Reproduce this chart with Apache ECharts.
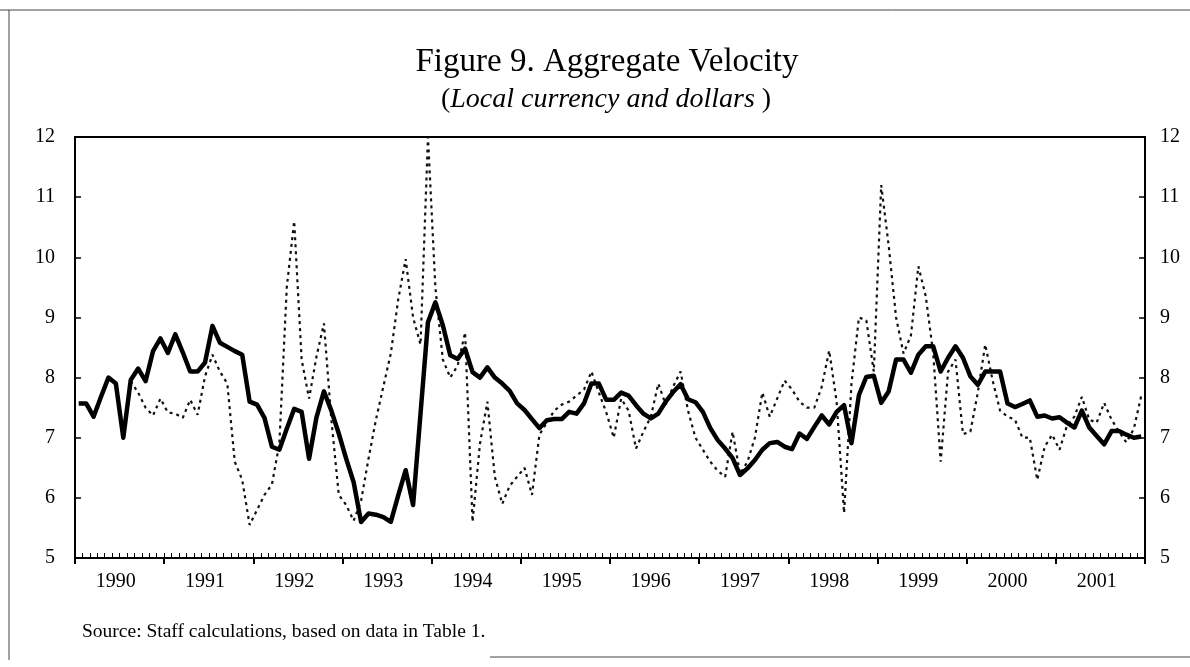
<!DOCTYPE html>
<html>
<head>
<meta charset="utf-8">
<title>Figure 9. Aggregate Velocity</title>
<script src="https://cdn.jsdelivr.net/npm/echarts@6/dist/echarts.min.js"></script>
<style>
html, body { margin: 0; padding: 0; background: #fff; }
#main { width: 1190px; height: 667px; }
</style>
</head>
<body>
<div id="main"></div>
<script>
var years = [1990, 1991, 1992, 1993, 1994, 1995, 1996, 1997, 1998, 1999, 2000, 2001];
var month_names = ['01', '02', '03', '04', '05', '06', '07', '08', '09', '10', '11', '12'];

// monthly velocity (solid line, left scale)
var local_currency = [
    7.57, 7.57, 7.35, 7.68, 8.00, 7.90, 7.00, 7.96, 8.15, 7.94, 8.44, 8.65,
    8.41, 8.72, 8.42, 8.10, 8.10, 8.25, 8.86, 8.58, 8.51, 8.44, 8.38, 7.60,
    7.55, 7.33, 6.85, 6.80, 7.15, 7.48, 7.43, 6.65, 7.34, 7.77, 7.45, 7.07,
    6.65, 6.26, 5.60, 5.74, 5.72, 5.68, 5.60, 6.04, 6.46, 5.88, 7.40, 8.92,
    9.25, 8.87, 8.37, 8.31, 8.48, 8.09, 8.00, 8.17, 8.00, 7.90, 7.78, 7.57,
    7.46, 7.31, 7.16, 7.29, 7.31, 7.31, 7.43, 7.40, 7.57, 7.90, 7.90, 7.63,
    7.63, 7.75, 7.70, 7.54, 7.40, 7.32, 7.40, 7.60, 7.76, 7.89, 7.64, 7.59,
    7.43, 7.16, 6.96, 6.82, 6.66, 6.38, 6.49, 6.63, 6.80, 6.91, 6.93, 6.85,
    6.81, 7.07, 6.98, 7.18, 7.37, 7.22, 7.43, 7.54, 6.91, 7.71, 8.01, 8.03,
    7.58, 7.77, 8.30, 8.30, 8.08, 8.38, 8.52, 8.52, 8.10, 8.33, 8.52, 8.33,
    8.02, 7.88, 8.10, 8.10, 8.10, 7.57, 7.51, 7.56, 7.62, 7.35, 7.37, 7.32,
    7.34, 7.25, 7.17, 7.45, 7.17, 7.03, 6.89, 7.11, 7.11, 7.05, 7.00, 7.02
];

// dotted line, right scale (starts in mid 1990)
var dollars = [
    null, null, null, null, null, null, null, 7.94, 7.75, 7.50, 7.37, 7.65,
    7.42, 7.40, 7.33, 7.63, 7.38, 8.02, 8.38, 8.10, 7.90, 6.60, 6.30, 5.55,
    5.80, 6.05, 6.22, 6.90, 9.50, 10.60, 8.30, 7.65, 8.35, 8.90, 7.30, 6.05,
    5.88, 5.62, 5.95, 6.65, 7.30, 7.85, 8.40, 9.30, 9.97, 9.00, 8.55, 12.00,
    9.50, 8.30, 8.00, 8.20, 8.75, 5.60, 6.90, 7.60, 6.35, 5.90, 6.20, 6.35,
    6.50, 6.05, 7.05, 7.25, 7.45, 7.55, 7.60, 7.70, 7.80, 8.10, 7.75, 7.42,
    7.00, 7.65, 7.45, 6.82, 7.10, 7.35, 7.90, 7.55, 7.85, 8.10, 7.45, 7.00,
    6.80, 6.60, 6.45, 6.35, 7.10, 6.40, 6.60, 7.00, 7.75, 7.35, 7.65, 7.95,
    7.80, 7.60, 7.50, 7.50, 7.85, 8.45, 7.60, 5.75, 7.90, 9.00, 8.95, 8.10,
    11.20, 10.20, 9.00, 8.40, 8.70, 9.85, 9.35, 8.40, 6.60, 8.10, 8.30, 7.06,
    7.10, 7.75, 8.55, 7.95, 7.45, 7.35, 7.30, 7.00, 7.00, 6.30, 6.85, 7.05,
    6.80, 7.20, 7.35, 7.68, 7.30, 7.25, 7.58, 7.30, 7.10, 6.92, 7.15, 7.70
];

var y_min = 5;
var y_max = 12;

var months = [];
years.forEach(function (y) {
    month_names.forEach(function (m) {
        months.push(y + '-' + m);
    });
});

var serif = 'Liberation Serif';
var chart = echarts.init(document.getElementById('main'));

var option = {
    animation: false,
    backgroundColor: '#fff',
    title: [
        {
            text: 'Figure 9. Aggregate Velocity',
            left: 602,
            top: 41,
            textAlign: 'center',
            textStyle: { fontFamily: serif, fontSize: 33, fontWeight: 'normal', color: '#000' }
        },
        {
            text: '{p|(}{i|Local currency and dollars}{p| )}',
            left: 601,
            top: 81,
            textAlign: 'center',
            textStyle: {
                fontWeight: 'normal',
                rich: {
                    p: { fontFamily: serif, fontSize: 28, fontWeight: 'normal', color: '#000' },
                    i: { fontFamily: serif, fontSize: 28, fontWeight: 'normal', fontStyle: 'italic', color: '#000' }
                }
            }
        },
        {
            text: 'Source: Staff calculations, based on data in Table 1.',
            left: 77,
            top: 617,
            textStyle: { fontFamily: serif, fontSize: 19.5, fontWeight: 'normal', color: '#000' }
        }
    ],
    grid: {
        left: 75,
        right: 45,
        top: 137,
        bottom: 109,
        show: true,
        borderColor: '#000',
        borderWidth: 2,
        backgroundColor: 'transparent'
    },
    xAxis: [
        {
            type: 'category',
            data: months,
            boundaryGap: true,
            position: 'bottom',
            z: 10,
            axisLine: { show: true, lineStyle: { color: '#000', width: 2 } },
            axisTick: { show: true, inside: true, length: 5, interval: 0, alignWithLabel: false, lineStyle: { color: '#000', width: 1 } },
            axisLabel: {
                interval: function (index) { return index % 12 === 5; },
                formatter: function (val) { return val.slice(0, 4); },
                fontFamily: serif,
                fontSize: 20,
                color: '#000',
                margin: 14
            },
            splitLine: { show: false }
        },
        {
            // year ticks
            type: 'category',
            data: months,
            boundaryGap: true,
            position: 'bottom',
            z: 10,
            axisLine: { show: false },
            axisTick: { show: true, inside: false, length: 6, interval: 11, alignWithLabel: false, lineStyle: { color: '#000', width: 2 } },
            axisLabel: { show: false },
            splitLine: { show: false }
        }
    ],
    yAxis: [
        {
            type: 'value',
            position: 'left',
            min: y_min,
            max: y_max,
            interval: 1,
            axisLine: { show: true, lineStyle: { color: '#000', width: 2 } },
            axisTick: { show: true, inside: true, length: 6, lineStyle: { color: '#000', width: 1.5 } },
            axisLabel: { fontFamily: serif, fontSize: 20, color: '#000', margin: 20 },
            splitLine: { show: false }
        },
        {
            type: 'value',
            position: 'right',
            min: y_min,
            max: y_max,
            interval: 1,
            axisLine: { show: true, lineStyle: { color: '#000', width: 2 } },
            axisTick: { show: true, inside: true, length: 6, lineStyle: { color: '#000', width: 1.5 } },
            axisLabel: { fontFamily: serif, fontSize: 20, color: '#000', margin: 15 },
            splitLine: { show: false }
        }
    ],
    series: [
        {
            name: 'Dollars',
            type: 'line',
            yAxisIndex: 1,
            data: dollars,
            showSymbol: false,
            z: 2,
            lineStyle: { color: '#111', width: 2.2, type: [3, 4], cap: 'butt' }
        },
        {
            name: 'Local currency',
            type: 'line',
            yAxisIndex: 0,
            data: local_currency,
            showSymbol: false,
            z: 3,
            lineStyle: { color: '#000', width: 4.5, join: 'round' }
        }
    ],
    graphic: [
        { type: 'line', shape: { x1: 0, y1: 10, x2: 1190, y2: 10 }, style: { stroke: '#444', lineWidth: 1 } },
        { type: 'line', shape: { x1: 9, y1: 10, x2: 9, y2: 660 }, style: { stroke: '#444', lineWidth: 1 } },
        { type: 'line', shape: { x1: 490, y1: 657, x2: 1190, y2: 657 }, style: { stroke: '#444', lineWidth: 1 } }
    ]
};

chart.setOption(option);
</script>
</body>
</html>
